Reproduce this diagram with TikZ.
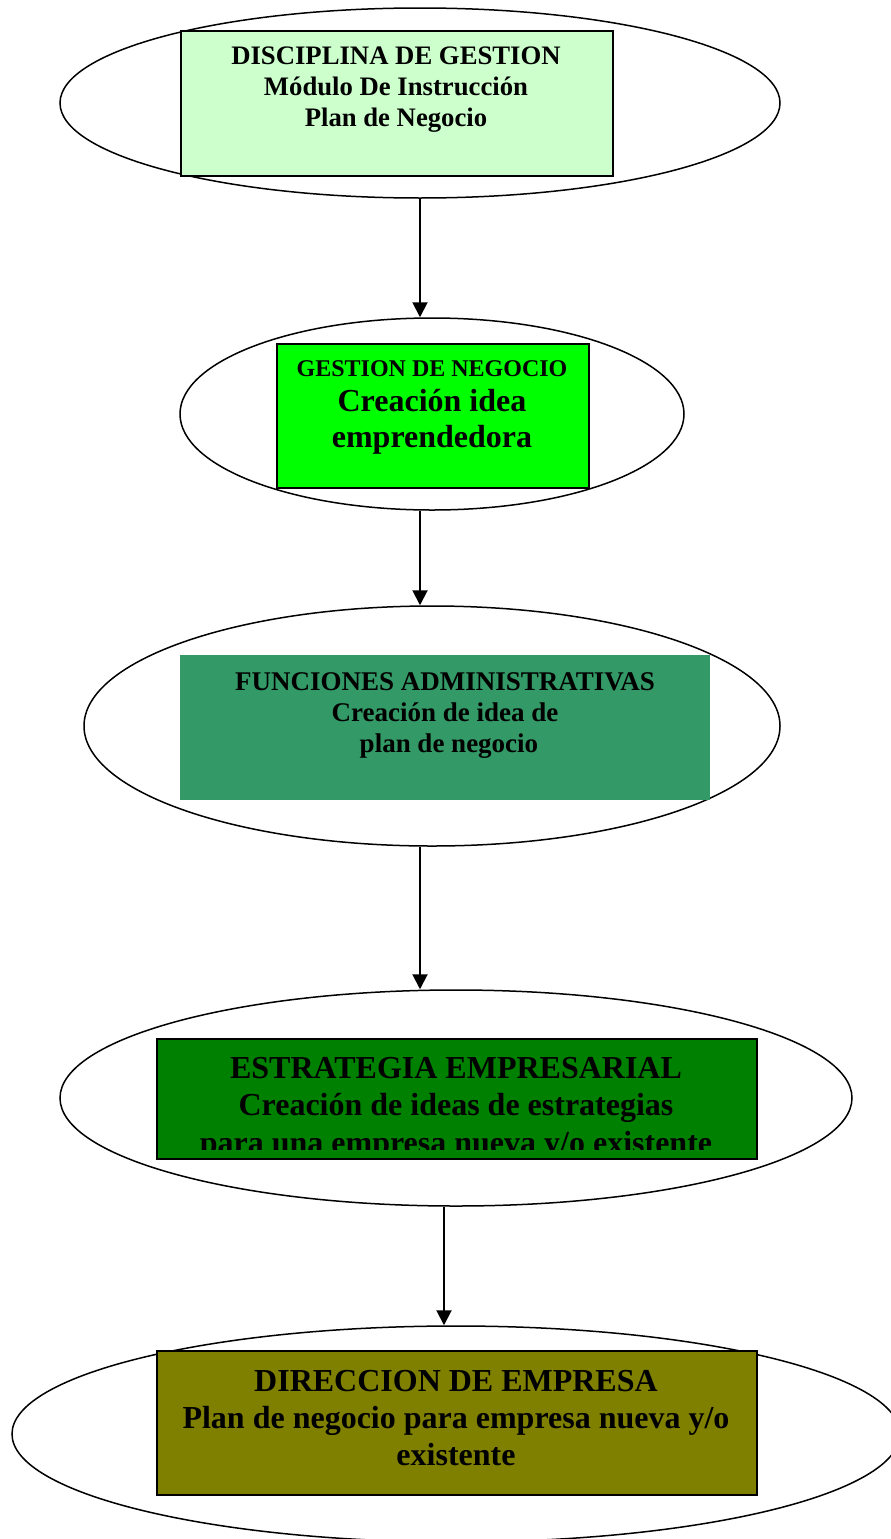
\documentclass[tikz,border=0pt]{standalone}
\usepackage{fontspec}
\setmainfont{Liberation Serif}
\usetikzlibrary{shapes.geometric,arrows.meta}
\definecolor{cone}{HTML}{CCFFCC}
\definecolor{ctwo}{HTML}{00FF00}
\definecolor{cthree}{HTML}{339966}
\definecolor{cfour}{HTML}{008000}
\definecolor{cfive}{HTML}{808000}
\begin{document}
\begin{tikzpicture}[x=1pt,y=-1pt,
  oval/.style={draw,ellipse,line width=1.5pt,inner sep=0pt},
  box/.style={line width=2pt,inner sep=0pt,anchor=north west},
  txt/.style={align=center,inner sep=0pt,anchor=north},
  arr/.style={line width=2pt,-{Triangle[length=15pt,width=15pt]}}]
\useasboundingbox (0,0) rectangle (891,1539);
% ellipses
\node[oval,minimum width=720pt,minimum height=190pt] (e1) at (420,103) {};
\node[oval,minimum width=504pt,minimum height=192pt] (e2) at (432,414) {};
\node[oval,minimum width=696pt,minimum height=240pt] (e3) at (432,726) {};
\node[oval,minimum width=792pt,minimum height=216pt] (e4) at (456,1098) {};
\node[oval,minimum width=888pt,minimum height=216pt] (e5) at (456,1434) {};
% boxes
\node[box,draw,fill=cone,minimum width=432pt,minimum height=145pt] (b1) at (180,30) {};
\node[box,draw,fill=ctwo,minimum width=312pt,minimum height=144pt] (b2) at (276,343) {};
\node[box,fill=cthree,minimum width=530pt,minimum height=145pt] (b3) at (179,654) {};
\node[box,draw,fill=cfour,minimum width=600pt,minimum height=120pt] (b4) at (156,1038) {};
\node[box,draw,fill=cfive,minimum width=600pt,minimum height=144pt] (b5) at (156,1350) {};
% texts
\node[txt,font=\bfseries\fontsize{26.7}{31}\selectfont] (t1) at (396,47)
  {DISCIPLINA DE GESTION\\Módulo De Instrucción\\Plan de Negocio};
\node[txt,font=\bfseries\fontsize{32}{35.5}\selectfont] (t2) at (432,360)
  {{\fontsize{24}{28}\selectfont GESTION DE NEGOCIO}\\Creación idea\\emprendedora};
\node[txt,font=\bfseries\fontsize{27}{31}\selectfont] (t3) at (445,672)
  {FUNCIONES ADMINISTRATIVAS\\Creación de idea de\\\hspace*{8pt}plan de negocio};
\begin{scope}
  \clip (157,1039) rectangle (755,1149);
  \node[txt,font=\bfseries\fontsize{32}{37.5}\selectfont] (t4) at (456,1057)
    {ESTRATEGIA EMPRESARIAL\\Creación de ideas de estrategias\\para una empresa nueva y/o existente};
\end{scope}
\node[txt,font=\bfseries\fontsize{32}{37}\selectfont] (t5) at (456,1370)
  {DIRECCION DE EMPRESA\\Plan de negocio para empresa nueva y/o\\existente};
% connectors
\draw[arr] (e1.south) -- (e1.south |- e2.north);
\draw[arr] ([xshift=-12pt]e2.south) -- ([xshift=-12pt]e2.south |- e3.north);
\draw[arr] ([xshift=-12pt]e3.south) -- ([xshift=-12pt]e3.south |- e4.north);
\draw[arr] ([xshift=-12pt]e4.south) -- ([xshift=-12pt]e4.south |- e5.north);
\end{tikzpicture}
\end{document}
